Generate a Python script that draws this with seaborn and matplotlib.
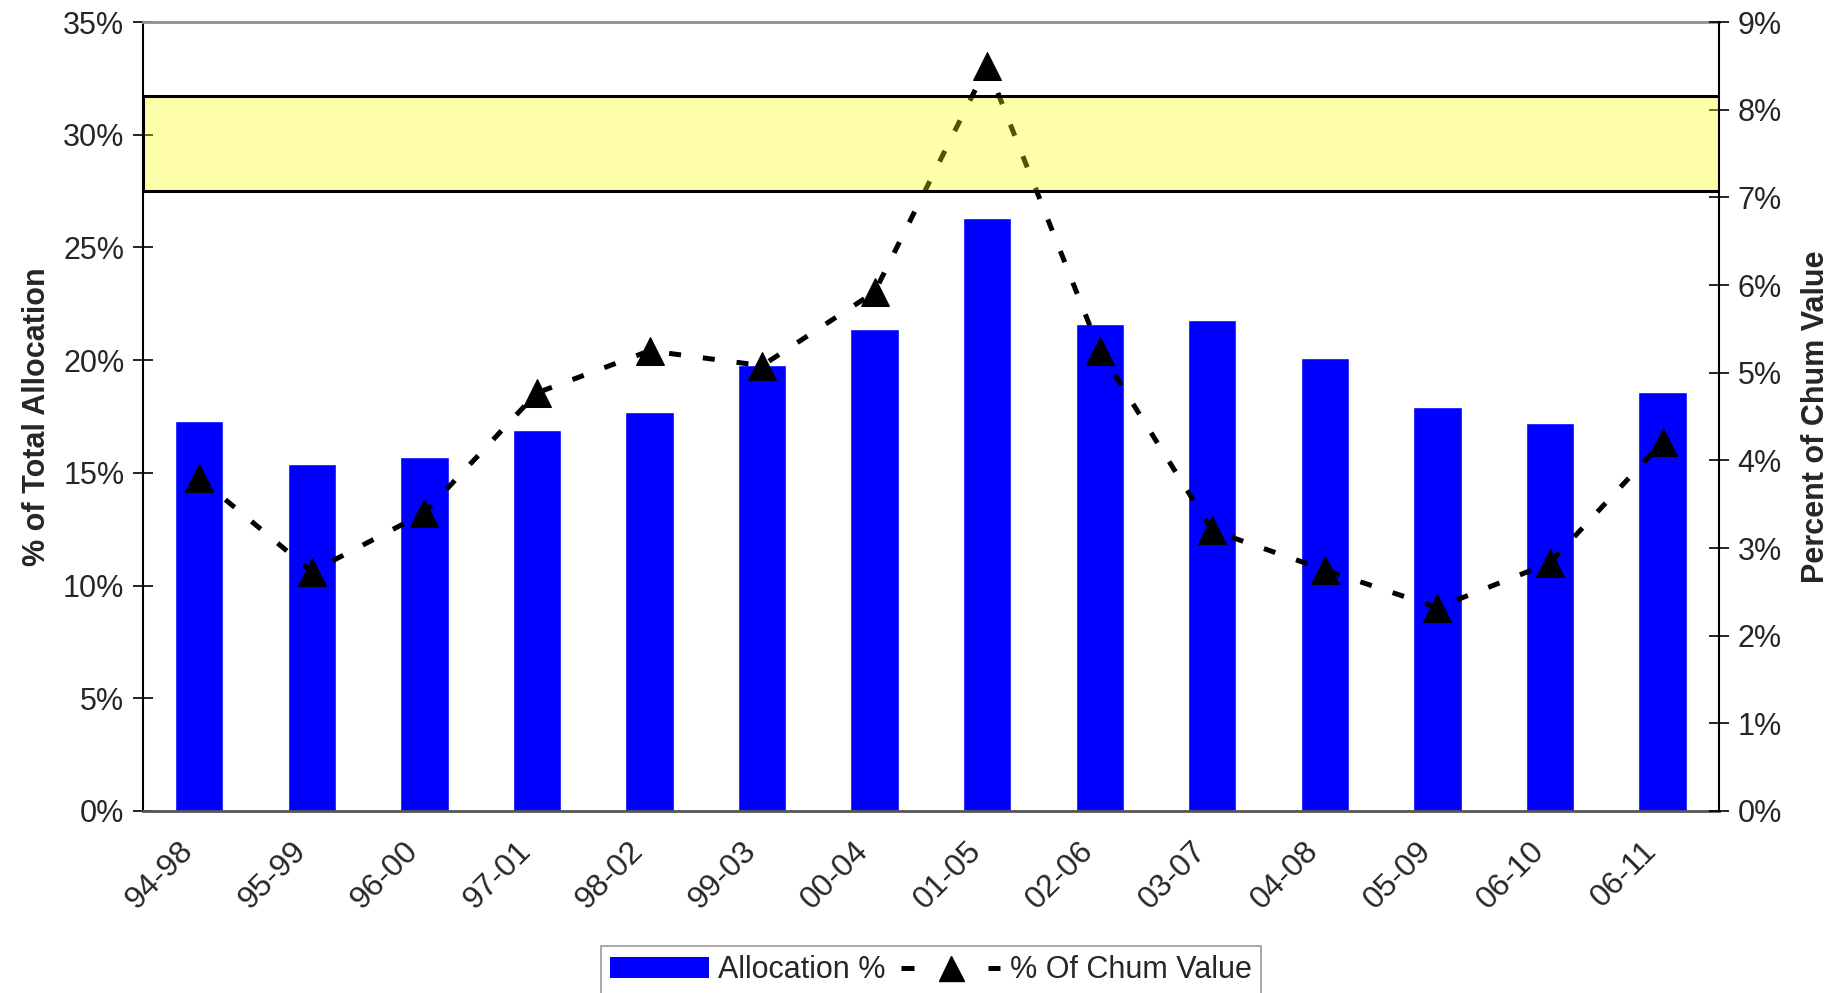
import numpy as np
import pandas as pd
import matplotlib
matplotlib.use("Agg")
import matplotlib.pyplot as plt
import matplotlib.transforms as mtransforms
from matplotlib.patches import Rectangle, Patch
from matplotlib.lines import Line2D
import seaborn as sns

# data
periods = ["94-98", "95-99", "96-00", "97-01", "98-02", "99-03", "00-04",
           "01-05", "02-06", "03-07", "04-08", "05-09", "06-10", "06-11"]
allocation_pct = [17.3, 15.4, 15.7, 16.9, 17.7, 19.8, 21.4,
                  26.3, 21.6, 21.8, 20.1, 17.9, 17.2, 18.6]
chum_value_pct = [3.80, 2.73, 3.40, 4.77, 5.25, 5.08, 5.92,
                  8.50, 5.25, 3.20, 2.75, 2.32, 2.83, 4.21]
band_range = (27.5, 31.7)   # highlighted band, left-axis units

left_ticks = [0, 5, 10, 15, 20, 25, 30, 35]
right_ticks = [0, 1, 2, 3, 4, 5, 6, 7, 8, 9]

sns.set_style("white")
plt.rcParams["font.family"] = ["Liberation Sans", "DejaVu Sans"]

df = pd.DataFrame({"period": periods, "alloc": allocation_pct, "chum": chum_value_pct})

fig = plt.figure(figsize=(18.43, 9.93), dpi=100)
ax = fig.add_axes([0.0776, 0.1833, 0.855, 0.7945])

sns.barplot(data=df, x="period", y="alloc", color="#0000FF", saturation=1,
            width=0.43, ax=ax, zorder=2)

ax2 = ax.twinx()
sns.lineplot(data=df, x="period", y="chum", ax=ax2, color="black",
             linewidth=3.6, linestyle=(0, (2.4, 4.4)), marker="^",
             markersize=20, markeredgecolor="black", zorder=3)

# yellow band drawn over the line, with a solid black outline
trans = mtransforms.blended_transform_factory(ax2.transAxes, ax.transData)
ax2.add_patch(Rectangle((0, band_range[0]), 1, band_range[1] - band_range[0],
                        transform=trans, facecolor="yellow", alpha=0.33,
                        edgecolor="none", zorder=4))
ax2.add_patch(Rectangle((0, band_range[0]), 1, band_range[1] - band_range[0],
                        transform=trans, facecolor="none", edgecolor="black",
                        linewidth=2.2, zorder=5))

n = len(periods)
ax.set_xlim(-0.5, n - 0.5)
ax.set_ylim(0, 35)
ax2.set_ylim(0, 9)

ax.set_yticks(left_ticks)
ax.set_yticklabels([f"{t}%" for t in left_ticks], fontsize=22)
ax2.set_yticks(right_ticks)
ax2.set_yticklabels([f"{t}%" for t in right_ticks], fontsize=22)

ax.set_xticks(range(n))
ax.set_xticklabels(periods, rotation=45, ha="right", fontsize=23)
ax.set_xticks(np.arange(-0.5, n, 1.0), minor=True)
ax.tick_params(axis="x", which="major", length=0, pad=18)
ax.tick_params(axis="x", which="minor", length=18, direction="inout",
               width=1.2, color="black")
ax.tick_params(axis="y", length=15, direction="inout", width=1.2,
               color="black", left=True, pad=6)
ax2.tick_params(axis="y", length=15, direction="inout", width=1.2,
                color="black", right=True, pad=6)

ax.set_xlabel("")
ax.set_ylabel("% of Total Allocation", fontsize=22, fontweight="bold", labelpad=8)
ax2.set_ylabel("Percent of Chum Value", fontsize=22, fontweight="bold", labelpad=14)

for a in (ax, ax2):
    a.grid(False)
    for s in a.spines.values():
        s.set_visible(False)
ax.spines["left"].set_visible(True)
ax.spines["left"].set_color("black")
ax.spines["left"].set_linewidth(1.5)
ax.spines["bottom"].set_visible(True)
ax.spines["bottom"].set_color("#555555")
ax.spines["bottom"].set_linewidth(2)
ax.spines["top"].set_visible(True)
ax.spines["top"].set_color("#909090")
ax.spines["top"].set_linewidth(2)
ax2.spines["right"].set_visible(True)
ax2.spines["right"].set_color("black")
ax2.spines["right"].set_linewidth(1.5)

# legend line: one short dash each side of the triangle
handles = [Patch(facecolor="#0000FF", edgecolor="none"),
           Line2D([], [], color="black", linewidth=3.6, linestyle=(0, (2.6, 14.8)),
                  marker="^", markersize=18)]
leg = fig.legend(handles, ["Allocation %", "% Of Chum Value"], loc="upper center",
                 bbox_to_anchor=(0.505, 0.047), ncol=2, fontsize=22, frameon=True,
                 fancybox=False, edgecolor="#808080", handlelength=3.25,
                 columnspacing=0.5, handletextpad=0.3, borderpad=0.3,
                 borderaxespad=0)
leg.get_frame().set_linewidth(1.2)

fig.savefig("out.png", dpi=100)
